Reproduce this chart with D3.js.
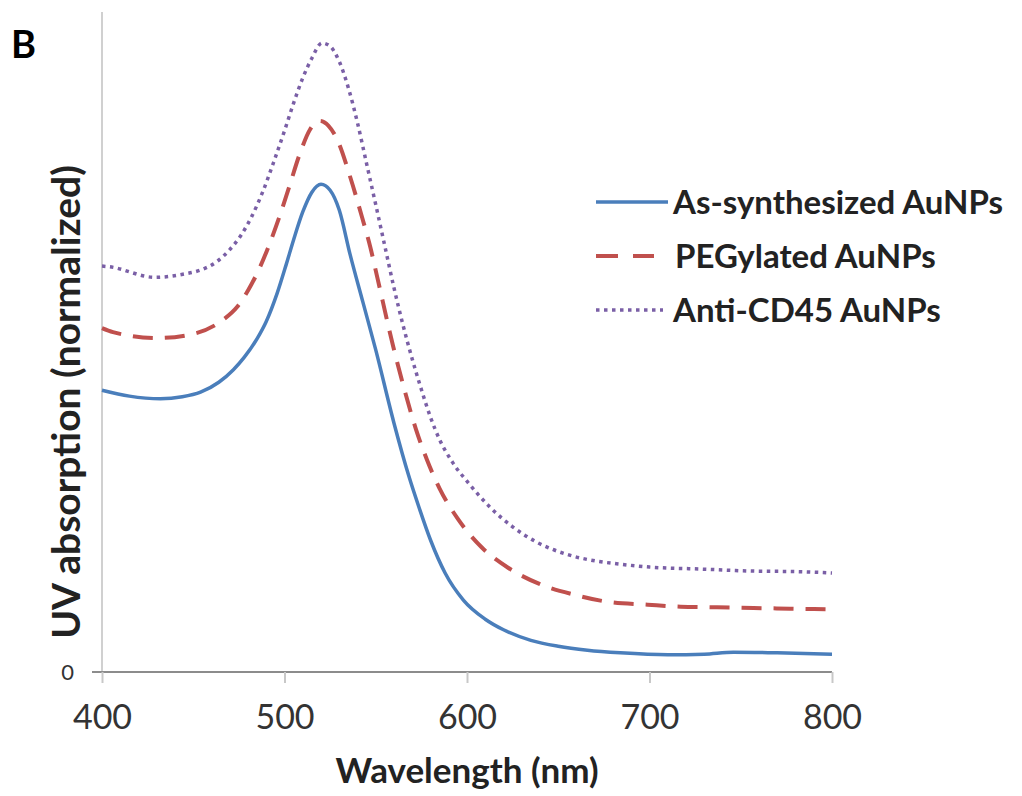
<!DOCTYPE html>
<html>
<head>
    <meta charset="utf-8">
    <style>
        body { margin: 0; background: white; }
        svg { display: block; font-family: Lato, "Open Sans", sans-serif; }
    </style>
</head>
<body>
<svg width="1022" height="796"></svg>

<script src="https://d3js.org/d3.v7.min.js"></script>
<script>
    // wavelengths (nm) and normalized absorbance
    const asSynthWl = [400, 415, 432, 444, 454, 464, 472, 478, 485, 490, 496, 501, 505, 510, 515, 520, 525, 530, 536, 543, 550, 560, 568, 574, 580, 588, 598, 610, 620, 635, 650, 666, 684, 710, 730, 746, 770, 800];
    const asSynthAbs = [0.427, 0.418, 0.414, 0.417, 0.424, 0.439, 0.458, 0.477, 0.505, 0.531, 0.574, 0.618, 0.655, 0.697, 0.727, 0.739, 0.730, 0.700, 0.632, 0.560, 0.488, 0.377, 0.298, 0.247, 0.200, 0.150, 0.109, 0.080, 0.064, 0.048, 0.039, 0.033, 0.029, 0.026, 0.027, 0.030, 0.029, 0.027];

    const pegWl = [400, 406, 430, 448, 466, 474, 480, 486, 492, 497, 502, 508.5, 514, 519.5, 524, 529, 536, 542.5, 547, 551, 559.5, 566, 572, 578, 585, 595, 608, 622.5, 640, 659, 678, 699, 717, 737, 757, 777, 800];
    const pegAbs = [0.521, 0.515, 0.506, 0.511, 0.533, 0.553, 0.578, 0.610, 0.650, 0.688, 0.730, 0.786, 0.822, 0.835, 0.828, 0.806, 0.750, 0.689, 0.644, 0.596, 0.494, 0.425, 0.368, 0.322, 0.278, 0.232, 0.189, 0.158, 0.133, 0.117, 0.106, 0.102, 0.099, 0.098, 0.097, 0.096, 0.095];

    const cd45Wl = [400, 404, 429, 445, 454, 463, 470, 476, 482, 488, 494, 500, 505, 510, 515, 520.5, 525, 530, 535, 540, 545, 550, 555, 560, 565, 570, 575, 580, 585, 592, 601.5, 612.5, 625, 638, 655, 671, 682, 700, 728, 755, 782, 800];
    const cd45Abs = [0.615, 0.614, 0.598, 0.603, 0.609, 0.622, 0.640, 0.661, 0.690, 0.727, 0.772, 0.820, 0.862, 0.900, 0.930, 0.953, 0.948, 0.925, 0.885, 0.832, 0.770, 0.708, 0.645, 0.582, 0.525, 0.474, 0.428, 0.386, 0.352, 0.318, 0.284, 0.250, 0.220, 0.197, 0.178, 0.168, 0.164, 0.159, 0.156, 0.153, 0.152, 0.150];

    const seriesNames = ["As-synthesized AuNPs", "PEGylated AuNPs", "Anti-CD45 AuNPs"];
    const xTicks = [400, 500, 600, 700, 800];
    const yTicks = [0];

    let svg = d3.select("svg");

    let x = d3.scaleLinear().domain([400, 800]).range([102, 832]);
    let y = d3.scaleLinear().domain([0, 1]).range([672, 12]);

    let series = [
        {name: seriesNames[0], wl: asSynthWl, abs: asSynthAbs, color: "#4a7ebb", width: 3.5, dash: null, legendDash: null, legendLen: 72},
        {name: seriesNames[1], wl: pegWl, abs: pegAbs, color: "#c0504d", width: 4, dash: "20,12", legendDash: "22,15", legendLen: 58},
        {name: seriesNames[2], wl: cd45Wl, abs: cd45Abs, color: "#7a5fa6", width: 3.5, dash: "3.5,4.5", legendDash: "3.5,4.5", legendLen: 67}
    ];

    // y axis line (light grey, no tick labels except 0)
    svg.append("line")
        .attr("x1", x(400)).attr("x2", x(400))
        .attr("y1", y(1)).attr("y2", y(0))
        .attr("stroke", "#d0d0d0")
        .attr("stroke-width", 2);

    // x axis
    let xAxis = svg.append("g")
        .attr("transform", `translate(0,${y(0)})`)
        .call(d3.axisBottom(x).tickValues(xTicks).tickSize(11).tickPadding(22).tickSizeOuter(0));
    xAxis.select(".domain")
        .attr("stroke", "#8c8c8c")
        .attr("stroke-width", 2)
        .attr("d", `M${x(400) - 10},0H${x(800)}`);
    xAxis.selectAll(".tick line").attr("stroke", "#c8c8c8").attr("stroke-width", 2);
    xAxis.selectAll(".tick text")
        .attr("font-family", "Lato, sans-serif")
        .attr("font-size", 34)
        .attr("fill", "#333");

    // y axis: only the 0 label
    svg.append("g")
        .selectAll("text")
        .data(yTicks)
        .join("text")
        .attr("x", 74)
        .attr("y", d => y(d))
        .attr("dy", "0.35em")
        .attr("text-anchor", "end")
        .attr("font-size", 22)
        .attr("fill", "#333")
        .text(d => d);

    let line = d3.line()
        .x(d => x(d[0]))
        .y(d => y(d[1]))
        .curve(d3.curveMonotoneX);

    svg.append("g")
        .attr("fill", "none")
        .selectAll("path")
        .data(series)
        .join("path")
        .attr("stroke", d => d.color)
        .attr("stroke-width", d => d.width)
        .attr("stroke-dasharray", d => d.dash)
        .attr("d", d => line(d.wl.map((w, i) => [w, d.abs[i]])));

    // legend
    let legend = svg.append("g")
        .selectAll("g")
        .data(series)
        .join("g")
        .attr("transform", (d, i) => `translate(596,${202 + i * 54})`);

    legend.append("line")
        .attr("x1", 0)
        .attr("x2", d => d.legendLen)
        .attr("stroke", d => d.color)
        .attr("stroke-width", d => d.width)
        .attr("stroke-dasharray", d => d.legendDash);

    legend.append("text")
        .attr("x", (d, i) => [77, 79, 77][i])
        .attr("dy", "0.35em")
        .attr("font-size", 33)
        .attr("font-weight", "bold")
        .attr("fill", "#222")
        .text(d => d.name);

    // axis titles
    svg.append("text")
        .attr("transform", `translate(80,402) rotate(-90)`)
        .attr("text-anchor", "middle")
        .attr("font-size", 39)
        .attr("font-weight", "bold")
        .attr("fill", "#222")
        .text("UV absorption (normalized)");

    svg.append("text")
        .attr("x", 467)
        .attr("y", 783)
        .attr("text-anchor", "middle")
        .attr("font-size", 35)
        .attr("font-weight", "bold")
        .attr("fill", "#222")
        .text("Wavelength (nm)");

    // panel letter
    svg.append("text")
        .attr("x", 11)
        .attr("y", 58)
        .attr("font-size", 38)
        .attr("font-weight", "bold")
        .attr("fill", "#000")
        .text("B");
</script>
</body>
</html>
